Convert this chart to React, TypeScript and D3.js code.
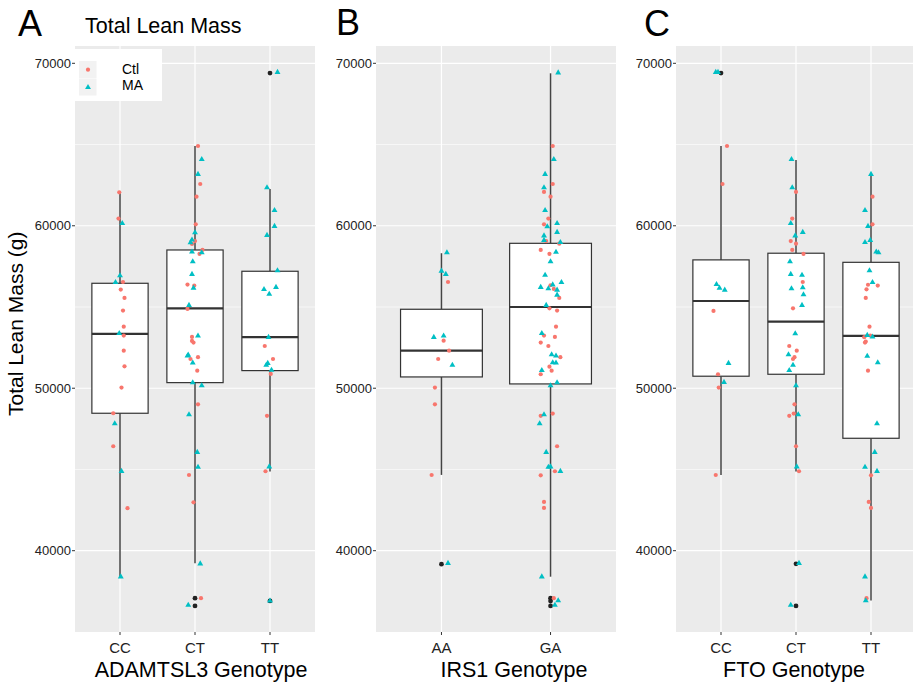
import React from "react";
import * as d3 from "d3";

const FONT = "'Liberation Sans', Arial, Helvetica, sans-serif";
const CTL_COLOR = "#F8766D";
const MA_COLOR = "#00BFC4";

// shared y axis
const yTicks = [40000, 50000, 60000, 70000];
const yMinor = [45000, 55000, 65000];

// ---- Panel A: ADAMTSL3 ----
const adamGenotypes = ["CC", "CT", "TT"];
// [genotype, lower whisker, q1, median, q3, upper whisker]
const adamBoxes = [
  ["CC", 38400, 48460, 53340, 56460, 62060],
  ["CT", 39230, 50345, 54920, 58510, 64910],
  ["TT", 44870, 51085, 53140, 57200, 62265],
];
const adamOutliers = [["CT", 37077], ["CT", 36600], ["TT", 69400], ["TT", 36910]];
// [genotype, value, jitter (fraction of band step)]
const adamCtl = [
  ["CC", 62060, -0.01], ["CC", 60440, -0.02], ["CC", 56540, 0.04], ["CC", 56070, 0.01],
  ["CC", 55560, 0.06], ["CC", 54780, 0.04], ["CC", 53790, 0.05], ["CC", 53240, 0.05],
  ["CC", 52310, 0.05], ["CC", 51350, 0.06], ["CC", 50040, 0.02], ["CC", 48460, -0.09],
  ["CC", 46430, -0.09], ["CC", 42620, 0.1],
  ["CT", 64910, 0.04], ["CT", 62570, 0.07], ["CT", 61790, 0.02], ["CT", 60090, 0.01],
  ["CT", 59060, 0], ["CT", 58880, -0.04], ["CT", 58510, 0.1], ["CT", 58270, 0.06],
  ["CT", 56380, -0.1], ["CT", 56320, -0.01], ["CT", 54880, -0.1], ["CT", 53160, -0.04],
  ["CT", 52910, -0.04], ["CT", 52810, -0.02], ["CT", 51910, 0.04], ["CT", 51800, -0.06],
  ["CT", 51080, 0.03], ["CT", 49010, 0.04], ["CT", 44660, -0.08], ["CT", 42980, -0.02],
  ["CT", 37080, 0.08],
  ["TT", 52600, -0.07], ["TT", 51800, 0.04], ["TT", 50880, 0.01], ["TT", 48300, -0.04],
  ["TT", 44890, -0.06],
];
const adamMA = [
  ["CC", 60150, 0.03], ["CC", 56930, 0], ["CC", 56520, -0.06], ["CC", 53380, -0.01],
  ["CC", 47820, -0.07], ["CC", 44890, 0.02], ["CC", 38400, 0.01],
  ["CT", 64090, 0.09], ["CT", 63170, 0.04], ["CT", 59580, 0], ["CT", 59130, -0.04],
  ["CT", 58960, -0.06], ["CT", 58350, 0.09], ["CT", 58390, -0.04], ["CT", 57790, -0.03],
  ["CT", 57020, -0.04], ["CT", 56170, -0.02], ["CT", 55110, -0.08], ["CT", 53220, 0.04],
  ["CT", 52050, -0.09], ["CT", 51990, -0.1], ["CT", 51560, -0.03], ["CT", 50350, -0.03],
  ["CT", 50160, 0.09], ["CT", 48380, -0.08], ["CT", 46060, 0.03], ["CT", 45150, 0.04],
  ["CT", 39200, 0.07], ["CT", 36650, -0.09],
  ["TT", 69450, 0.1], ["TT", 62350, -0.04], ["TT", 60950, 0.06], ["TT", 59970, 0.06],
  ["TT", 59420, -0.04], ["TT", 57240, 0.1], ["TT", 56090, -0.08], ["TT", 56220, 0.08],
  ["TT", 55790, -0.01], ["TT", 53140, -0.02], ["TT", 51540, -0.03], ["TT", 51420, -0.05],
  ["TT", 51120, 0.02], ["TT", 45170, -0.01], ["TT", 36910, 0],
];

// ---- Panel B: IRS1 ----
const irsGenotypes = ["AA", "GA"];
const irsBoxes = [
  ["AA", 44665, 50695, 52315, 54860, 58310],
  ["GA", 38400, 50265, 55000, 58920, 69385],
];
const irsOutliers = [["AA", 39170], ["GA", 37080], ["GA", 36900], ["GA", 36600]];
const irsCtl = [
  ["AA", 56540, 0.06], ["AA", 52930, 0.02], ["AA", 52310, 0.07], ["AA", 51800, -0.03],
  ["AA", 50040, -0.06], ["AA", 49010, -0.06], ["AA", 44660, -0.09],
  ["GA", 64910, 0.02], ["GA", 62570, 0.02], ["GA", 62080, -0.06], ["GA", 61790, 0],
  ["GA", 60440, -0.02], ["GA", 60090, -0.06], ["GA", 59060, -0.04], ["GA", 58900, 0.08],
  ["GA", 58510, -0.09], ["GA", 58270, -0.01], ["GA", 56340, 0], ["GA", 56110, 0.03],
  ["GA", 55560, 0.08], ["GA", 54920, -0.01], ["GA", 54780, 0.06], ["GA", 53790, 0.05],
  ["GA", 53240, -0.06], ["GA", 53160, 0.04], ["GA", 52810, -0.09], ["GA", 52600, -0.02],
  ["GA", 51910, 0.09], ["GA", 51330, -0.01], ["GA", 51080, 0.01], ["GA", 50860, -0.09],
  ["GA", 48440, 0.02], ["GA", 48300, -0.09], ["GA", 46430, 0.06], ["GA", 44890, 0.04],
  ["GA", 44640, -0.09], ["GA", 43000, -0.06], ["GA", 42630, -0.06], ["GA", 37080, 0.03],
];
const irsMA = [
  ["AA", 58350, 0.05], ["AA", 57220, 0], ["AA", 57020, 0.04], ["AA", 53140, -0.07],
  ["AA", 53220, 0.02], ["AA", 51420, 0.1], ["AA", 39230, 0.06],
  ["GA", 69420, 0.07], ["GA", 64090, 0.03], ["GA", 63170, -0.05], ["GA", 62350, -0.06],
  ["GA", 60950, -0.05], ["GA", 60150, 0.06], ["GA", 59950, -0.03], ["GA", 59600, 0.06],
  ["GA", 59390, -0.06], ["GA", 59110, -0.06], ["GA", 58980, 0.09], ["GA", 58380, 0.05],
  ["GA", 57790, 0], ["GA", 56960, -0.05], ["GA", 56520, 0.1], ["GA", 56370, 0.02],
  ["GA", 56220, -0.09], ["GA", 56130, -0.02], ["GA", 56050, 0.06], ["GA", 55740, 0.06],
  ["GA", 55110, -0.04], ["GA", 53380, -0.08], ["GA", 52070, 0.01], ["GA", 51990, 0.05],
  ["GA", 51580, 0.02], ["GA", 51560, 0.05], ["GA", 51100, -0.08], ["GA", 50350, 0.06],
  ["GA", 50160, 0], ["GA", 48380, -0.06], ["GA", 47820, -0.1], ["GA", 46060, -0.04],
  ["GA", 45150, -0.02], ["GA", 45170, 0], ["GA", 44890, 0.09], ["GA", 38400, -0.08],
  ["GA", 36930, 0.07], ["GA", 36650, 0.04],
];

// ---- Panel C: FTO ----
const ftoGenotypes = ["CC", "CT", "TT"];
const ftoBoxes = [
  ["CC", 44665, 50740, 55370, 57900, 64910],
  ["CT", 44870, 50860, 54100, 58310, 64050],
  ["TT", 36930, 46920, 53220, 57750, 63130],
];
const ftoOutliers = [["CC", 69400], ["CT", 39190], ["CT", 36600]];
const ftoCtl = [
  ["CC", 64910, 0.08], ["CC", 62570, 0.02], ["CC", 54760, -0.1], ["CC", 50860, -0.04],
  ["CC", 50040, -0.03], ["CC", 44660, -0.07],
  ["CT", 62080, 0], ["CT", 60440, -0.05], ["CT", 59060, -0.07], ["CT", 58900, 0],
  ["CT", 58510, -0.05], ["CT", 58270, 0.1], ["CT", 56540, 0.09], ["CT", 54920, -0.04],
  ["CT", 52600, -0.09], ["CT", 52310, 0.01], ["CT", 51910, -0.02], ["CT", 51800, -0.04],
  ["CT", 49010, -0.02], ["CT", 48440, -0.03], ["CT", 48300, -0.09], ["CT", 46430, 0],
  ["CT", 44890, 0.04],
  ["TT", 61790, 0.02], ["TT", 60090, 0.02], ["TT", 56370, -0.04], ["TT", 56320, 0.09],
  ["TT", 56090, -0.06], ["TT", 55560, -0.07], ["TT", 53790, -0.02], ["TT", 53240, -0.01],
  ["TT", 53140, -0.09], ["TT", 52870, -0.07], ["TT", 52810, -0.08], ["TT", 51080, -0.04],
  ["TT", 44640, 0], ["TT", 43000, -0.03], ["TT", 42630, 0], ["TT", 37080, -0.06],
];
const ftoMA = [
  ["CC", 69450, -0.07], ["CC", 69450, -0.04], ["CC", 56390, -0.06], ["CC", 56170, -0.02],
  ["CC", 56050, 0.05], ["CC", 51540, 0.1], ["CC", 50370, 0.04],
  ["CT", 64090, -0.06], ["CT", 62350, -0.05], ["CT", 60150, -0.07], ["CT", 59600, 0.09],
  ["CT", 59390, -0.01], ["CT", 57790, -0.08], ["CT", 57020, -0.07], ["CT", 56960, 0.08],
  ["CT", 56130, -0.06], ["CT", 56190, 0.09], ["CT", 55760, 0.1], ["CT", 55110, 0.08],
  ["CT", 53360, -0.01], ["CT", 52070, -0.1], ["CT", 51420, -0.04], ["CT", 51100, -0.09],
  ["CT", 50160, 0], ["CT", 48380, 0.03], ["CT", 45170, 0.01], ["CT", 39230, 0.04],
  ["CT", 36650, -0.07],
  ["TT", 63170, 0], ["TT", 60950, -0.08], ["TT", 59970, -0.04], ["TT", 58980, -0.08],
  ["TT", 59110, -0.01], ["TT", 58390, 0.07], ["TT", 58350, 0.1], ["TT", 57240, -0.02],
  ["TT", 56520, 0.02], ["TT", 53260, -0.05], ["TT", 53160, 0.02], ["TT", 51980, -0.05],
  ["TT", 51580, 0.09], ["TT", 47820, 0.08], ["TT", 46060, 0.05], ["TT", 45150, -0.08],
  ["TT", 44890, 0.08], ["TT", 38400, -0.08], ["TT", 36930, -0.07],
];

// layout
const PANEL_TOP = 46;
const PANEL_BOTTOM = 632;
const yScale = d3.scaleLinear().domain([40000, 70000]).range([550.7, 63.3]);
const triangle = d3.symbol().type(d3.symbolTriangle).size(15)();

function Panel({ genotypes, boxes, outliers, ctl, ma, x0, x1, xTitle, xTitleX }) {
  const x = d3.scalePoint().domain(genotypes).range([x0, x1]).padding(0.6);
  const step = x.step();
  const boxW = step * 0.75;

  return (
    <g>
      <rect x={x0} y={PANEL_TOP} width={x1 - x0} height={PANEL_BOTTOM - PANEL_TOP} fill="#ebebeb" />
      {yMinor.map((t) => (
        <line key={`mn-${t}`} x1={x0} x2={x1} y1={yScale(t)} y2={yScale(t)} stroke="#fff" strokeWidth={0.6} />
      ))}
      {yTicks.map((t) => (
        <line key={`mj-${t}`} x1={x0} x2={x1} y1={yScale(t)} y2={yScale(t)} stroke="#fff" strokeWidth={1.2} />
      ))}
      {genotypes.map((g) => (
        <line key={`vg-${g}`} x1={x(g)} x2={x(g)} y1={PANEL_TOP} y2={PANEL_BOTTOM} stroke="#fff" strokeWidth={1.2} />
      ))}

      {/* boxplots */}
      {boxes.map(([g, lo, q1, med, q3, hi]) => {
        const cx = x(g);
        return (
          <g key={`box-${g}`}>
            <line x1={cx} x2={cx} y1={yScale(hi)} y2={yScale(q3)} stroke="#444" strokeWidth={1.5} />
            <line x1={cx} x2={cx} y1={yScale(q1)} y2={yScale(lo)} stroke="#444" strokeWidth={1.5} />
            <rect x={cx - boxW / 2} y={yScale(q3)} width={boxW} height={yScale(q1) - yScale(q3)}
              fill="#fff" stroke="#333" strokeWidth={1.2} />
            <line x1={cx - boxW / 2} x2={cx + boxW / 2} y1={yScale(med)} y2={yScale(med)} stroke="#333" strokeWidth={2.2} />
          </g>
        );
      })}
      {outliers.map(([g, v], i) => (
        <circle key={`out-${i}`} cx={x(g)} cy={yScale(v)} r={2.4} fill="#222" />
      ))}

      {/* jittered points */}
      {ctl.map(([g, v, j], i) => (
        <circle key={`ctl-${i}`} cx={x(g) + j * step} cy={yScale(v)} r={2.1} fill={CTL_COLOR} />
      ))}
      {ma.map(([g, v, j], i) => (
        <path key={`ma-${i}`} d={triangle} transform={`translate(${x(g) + j * step},${yScale(v)})`} fill={MA_COLOR} />
      ))}

      {/* y axis */}
      {yTicks.map((t) => (
        <g key={`yt-${t}`}>
          <line x1={x0 - 3} x2={x0} y1={yScale(t)} y2={yScale(t)} stroke="#333" strokeWidth={1} />
          <text x={x0 - 4} y={yScale(t)} dy="0.35em" textAnchor="end" fontSize={13} fill="#222" fontFamily={FONT}>
            {t}
          </text>
        </g>
      ))}

      {/* x axis */}
      {genotypes.map((g) => (
        <g key={`xt-${g}`}>
          <line x1={x(g)} x2={x(g)} y1={PANEL_BOTTOM} y2={PANEL_BOTTOM + 3} stroke="#333" strokeWidth={1} />
          <text x={x(g)} y={653} textAnchor="middle" fontSize={15} fill="#222" fontFamily={FONT}>
            {g}
          </text>
        </g>
      ))}
      <text x={xTitleX} y={677} textAnchor="middle" fontSize={21.5} fill="#000" fontFamily={FONT}>
        {xTitle}
      </text>
    </g>
  );
}

export default function App() {
  return (
    <svg width={913} height={683} style={{ position: "absolute", left: 0, top: 0, background: "#fff" }}>
      <rect width={913} height={683} fill="#fff" />
      <Panel genotypes={adamGenotypes} boxes={adamBoxes} outliers={adamOutliers} ctl={adamCtl} ma={adamMA}
        x0={75} x1={315} xTitle="ADAMTSL3 Genotype" xTitleX={201} />
      <Panel genotypes={irsGenotypes} boxes={irsBoxes} outliers={irsOutliers} ctl={irsCtl} ma={irsMA}
        x0={376} x1={616} xTitle="IRS1 Genotype" xTitleX={514} />
      <Panel genotypes={ftoGenotypes} boxes={ftoBoxes} outliers={ftoOutliers} ctl={ftoCtl} ma={ftoMA}
        x0={676} x1={916} xTitle="FTO Genotype" xTitleX={794} />

      {/* legend */}
      <rect x={75} y={49} width={87} height={52} fill="#fff" />
      <rect x={79} y={61} width={17.5} height={17} fill="#f2f2f2" />
      <rect x={79} y={78.5} width={17.5} height={17} fill="#f2f2f2" />
      <circle cx={88} cy={69.7} r={2.1} fill={CTL_COLOR} />
      <path d={triangle} transform="translate(88,87.3)" fill={MA_COLOR} />
      <text x={122} y={74} fontSize={14} fontFamily={FONT} fill="#000">Ctl</text>
      <text x={122} y={90} fontSize={14} fontFamily={FONT} fill="#000">MA</text>

      {/* titles */}
      <text x={85} y={33} fontSize={21.5} fontFamily={FONT} fill="#000">Total Lean Mass</text>
      <text transform="translate(23,416) rotate(-90)" fontSize={21} fontFamily={FONT} fill="#000">
        Total Lean Mass (g)
      </text>
      <text x={18} y={36} fontSize={36} fontFamily={FONT} fill="#000">A</text>
      <text x={336} y={35} fontSize={36} fontFamily={FONT} fill="#000">B</text>
      <text x={644} y={36} fontSize={36} fontFamily={FONT} fill="#000">C</text>
    </svg>
  );
}
